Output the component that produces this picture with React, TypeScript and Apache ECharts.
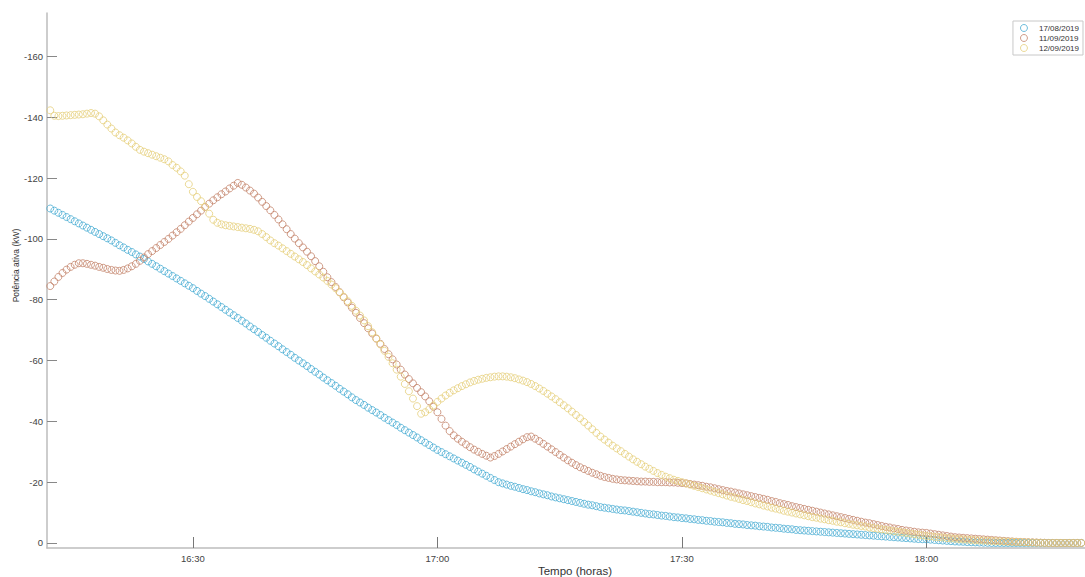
import React, { useEffect, useRef } from "react";
import * as echarts from "echarts";

// Sampling: one reading every 30 s, first reading at 16:12:30 (minutes since 16:00)
const START_MINUTE = 12.5;
const STEP_MINUTES = 0.5;

const SERIES_NAMES = ["17/08/2019", "11/09/2019", "12/09/2019"];
const COLORS = ["#48acd3", "#c4846b", "#e6d07c"];

const X_TICKS = [30, 60, 90, 120];
const Y_TICKS = [0, -20, -40, -60, -80, -100, -120, -140, -160];

// Potência ativa (kW), 17/08/2019
const p17_08 = [
  -110.0, -109.3, -108.6, -107.9, -107.2, -106.5, -105.8, -105.1, -104.4, -103.7,
  -103.0, -102.3, -101.6, -100.9, -100.2, -99.5, -98.7, -97.9, -97.2, -96.4,
  -95.7, -94.9, -94.2, -93.4, -92.6, -91.8, -91.0, -90.2, -89.4, -88.6,
  -87.8, -87.0, -86.2, -85.4, -84.6, -83.8, -82.9, -82.0, -81.2, -80.3,
  -79.4, -78.5, -77.6, -76.7, -75.8, -74.9, -74.0, -73.1, -72.2, -71.2,
  -70.3, -69.4, -68.4, -67.5, -66.5, -65.6, -64.7, -63.7, -62.8, -61.9,
  -60.9, -60.0, -59.1, -58.2, -57.2, -56.3, -55.4, -54.4, -53.5, -52.6,
  -51.7, -50.7, -49.8, -48.9, -47.9, -47.0, -46.2, -45.4, -44.5, -43.7,
  -42.9, -42.1, -41.2, -40.4, -39.6, -38.8, -37.9, -37.1, -36.3, -35.5,
  -34.7, -33.8, -33.0, -32.2, -31.4, -30.6, -29.9, -29.2, -28.5, -27.8,
  -27.1, -26.4, -25.7, -25.0, -24.2, -23.5, -22.8, -22.1, -21.4, -20.7,
  -20.0, -19.6, -19.2, -18.8, -18.5, -18.1, -17.7, -17.4, -17.0, -16.7,
  -16.3, -16.0, -15.7, -15.3, -15.0, -14.7, -14.4, -14.1, -13.8, -13.5,
  -13.2, -12.9, -12.6, -12.4, -12.1, -11.8, -11.6, -11.4, -11.2, -11.0,
  -10.8, -10.7, -10.5, -10.3, -10.1, -9.9, -9.7, -9.5, -9.4, -9.2,
  -9.0, -8.9, -8.7, -8.5, -8.4, -8.2, -8.1, -7.9, -7.8, -7.6,
  -7.5, -7.3, -7.2, -7.0, -6.9, -6.8, -6.6, -6.5, -6.3, -6.2,
  -6.1, -5.9, -5.8, -5.7, -5.5, -5.4, -5.3, -5.1, -5.0, -4.9,
  -4.7, -4.6, -4.5, -4.3, -4.2, -4.1, -4.0, -3.9, -3.8, -3.7,
  -3.6, -3.5, -3.4, -3.3, -3.2, -3.1, -3.0, -2.9, -2.8, -2.7,
  -2.6, -2.5, -2.4, -2.3, -2.2, -2.1, -2.0, -1.9, -1.8, -1.7,
  -1.6, -1.5, -1.4, -1.3, -1.25, -1.2, -1.1, -1.0, -0.9, -0.8,
  -0.7, -0.6, -0.5, -0.45, -0.4, -0.3, -0.25, -0.2, -0.15, -0.1,
  -0.05, 0, 0, 0, 0, 0, 0, 0, 0, 0,
  0, 0, 0, 0, 0, 0, 0, 0, 0, 0,
  0, 0, 0, 0, 0,
];

// Potência ativa (kW), 11/09/2019
const p11_09 = [
  -84.5, -86.0, -87.5, -88.8, -89.9, -90.8, -91.5, -92.0, -92.0, -91.8,
  -91.5, -91.2, -90.8, -90.5, -90.1, -89.8, -89.6, -89.5, -89.8, -90.3,
  -91.0, -91.8, -92.8, -93.9, -95.0, -96.0, -97.0, -98.0, -99.0, -100.0,
  -101.1, -102.2, -103.3, -104.5, -105.7, -106.9, -108.1, -109.3, -110.5, -111.6,
  -112.7, -113.7, -114.7, -115.6, -116.6, -117.5, -118.4, -117.8, -116.9, -115.9,
  -114.9, -113.6, -112.2, -110.8, -109.4, -107.9, -106.4, -104.8, -103.2, -101.6,
  -100.1, -98.6, -97.2, -95.8, -94.3, -92.7, -91.0, -89.2, -87.4, -85.8,
  -84.2, -82.5, -80.8, -79.1, -77.4, -75.7, -74.0, -72.3, -70.6, -68.9,
  -67.2, -65.5, -63.8, -62.1, -60.4, -58.7, -57.0, -55.4, -53.9, -52.5,
  -51.0, -49.6, -48.2, -46.6, -44.8, -43.0, -40.8, -38.6, -36.8, -35.4,
  -34.3, -33.3, -32.4, -31.5, -30.7, -30.0, -29.3, -28.7, -28.1, -28.6,
  -29.3, -30.1, -30.9, -31.7, -32.5, -33.3, -34.1, -34.8, -35.0, -34.3,
  -33.5, -32.6, -31.7, -30.8, -29.9, -29.0, -28.1, -27.2, -26.4, -25.6,
  -24.9, -24.3, -23.7, -23.1, -22.6, -22.1, -21.7, -21.4, -21.1, -20.9,
  -20.7, -20.6, -20.5, -20.4, -20.3, -20.2, -20.2, -20.1, -20.1, -20.0,
  -20.0, -20.0, -19.9, -19.9, -19.8, -19.7, -19.6, -19.4, -19.2, -19.0,
  -18.8, -18.5, -18.3, -18.0, -17.7, -17.4, -17.1, -16.9, -16.6, -16.3,
  -16.0, -15.7, -15.4, -15.1, -14.8, -14.5, -14.2, -13.8, -13.5, -13.1,
  -12.8, -12.5, -12.1, -11.8, -11.5, -11.2, -10.9, -10.6, -10.3, -10.0,
  -9.7, -9.4, -9.1, -8.8, -8.5, -8.2, -7.9, -7.6, -7.3, -7.0,
  -6.7, -6.5, -6.2, -5.9, -5.6, -5.3, -5.1, -4.8, -4.6, -4.3,
  -4.1, -3.9, -3.7, -3.5, -3.4, -3.3, -3.1, -2.9, -2.7, -2.5,
  -2.3, -2.1, -1.9, -1.8, -1.7, -1.6, -1.5, -1.4, -1.3, -1.2,
  -1.1, -1.0, -0.9, -0.8, -0.7, -0.6, -0.5, -0.4, -0.35, -0.3,
  -0.25, -0.2, -0.15, -0.1, -0.05, 0, 0, 0, 0, 0,
  0, 0, 0, 0, 0,
];

// Potência ativa (kW), 12/09/2019
const p12_09 = [
  -142.3, -140.5, -140.4, -140.5, -140.6, -140.7, -140.8, -140.9, -141.0, -141.2,
  -141.4, -141.2, -140.3, -139.0, -137.6, -136.3, -135.0, -134.1, -133.3, -132.4,
  -131.4, -130.3, -129.3, -128.7, -128.2, -127.7, -127.2, -126.7, -126.2, -125.5,
  -124.3, -123.4, -122.2, -120.8, -118.0, -115.5, -113.8, -112.4, -110.5, -108.3,
  -106.3, -105.3, -104.8, -104.5, -104.3, -104.1, -103.9, -103.7, -103.5, -103.3,
  -103.0, -102.5, -101.6, -100.6, -99.5, -98.6, -97.8, -96.9, -96.0, -95.1,
  -94.2, -93.3, -92.4, -91.4, -90.3, -89.3, -88.3, -87.3, -86.2, -85.0,
  -83.8, -82.4, -81.0, -79.5, -78.0, -76.4, -74.8, -73.2, -71.3, -69.3,
  -67.3, -65.3, -63.2, -61.2, -59.1, -57.0, -54.7, -52.3, -49.9, -47.5,
  -45.0, -42.5, -43.0, -44.0, -45.2, -46.4, -47.5, -48.5, -49.4, -50.2,
  -50.9, -51.6, -52.2, -52.8, -53.3, -53.7, -54.0, -54.3, -54.5, -54.7,
  -54.8, -54.8, -54.7, -54.5, -54.2, -53.8, -53.4, -52.9, -52.3, -51.6,
  -50.8, -50.0, -49.1, -48.2, -47.3, -46.3, -45.3, -44.3, -43.2, -42.1,
  -41.0, -39.8, -38.6, -37.4, -36.2, -35.0, -34.0, -33.0, -32.0, -31.1,
  -30.2, -29.3, -28.4, -27.5, -26.7, -25.9, -25.1, -24.4, -23.7, -23.0,
  -22.4, -21.8, -21.3, -20.8, -20.4, -20.0, -19.6, -19.2, -18.8, -18.4,
  -18.0, -17.6, -17.2, -16.8, -16.4, -16.0, -15.6, -15.2, -14.9, -14.5,
  -14.1, -13.8, -13.4, -13.0, -12.7, -12.3, -12.0, -11.6, -11.3, -11.0,
  -10.6, -10.3, -10.0, -9.7, -9.4, -9.1, -8.8, -8.5, -8.3, -8.0,
  -7.8, -7.5, -7.3, -7.0, -6.8, -6.5, -6.3, -6.0, -5.8, -5.6,
  -5.4, -5.1, -4.9, -4.7, -4.5, -4.3, -4.1, -3.9, -3.7, -3.5,
  -3.3, -3.1, -2.9, -2.7, -2.5, -2.3, -2.2, -2.0, -1.9, -1.8,
  -1.6, -1.5, -1.4, -1.3, -1.2, -1.1, -1.0, -0.9, -0.85, -0.8,
  -0.7, -0.65, -0.6, -0.55, -0.5, -0.45, -0.4, -0.35, -0.3, -0.25,
  -0.2, -0.15, -0.1, -0.05, 0, 0, 0, 0, 0, 0,
  0, 0, 0, 0, 0,
];

const SERIES_VALUES = [p17_08, p11_09, p12_09];

const pad = (n: number) => (n < 10 ? "0" + n : "" + n);
const fmtTime = (m: number) => {
  const total = Math.round(m);
  return `${16 + Math.floor(total / 60)}:${pad(total % 60)}`;
};

export default function App() {
  const ref = useRef<HTMLDivElement>(null);

  useEffect(() => {
    if (!ref.current) return;
    const chart = echarts.init(ref.current, undefined, { renderer: "svg" });
    const font = "'Liberation Sans', Arial, sans-serif";

    const series = SERIES_VALUES.map((vals, si) => ({
      name: SERIES_NAMES[si],
      type: "scatter",
      symbol: "circle",
      symbolSize: 7,
      data: vals.map((v, i) => [START_MINUTE + i * STEP_MINUTES, v]),
      itemStyle: {
        color: "rgba(255,255,255,0)",
        borderColor: COLORS[si],
        borderWidth: 1,
      },
      emphasis: { disabled: true },
    }));

    chart.setOption({
      animation: false,
      backgroundColor: "#ffffff",
      textStyle: { fontFamily: font },
      grid: {
        left: 47,
        right: 0,
        top: 13,
        bottom: 29,
        containLabel: false,
        outerBoundsMode: "none",
      },
      legend: {
        orient: "vertical",
        right: 2,
        top: 21,
        padding: [3, 4, 3, 7],
        itemWidth: 20,
        itemHeight: 7,
        itemGap: 2,
        borderColor: "#c8c8c8",
        borderWidth: 1,
        textStyle: { fontSize: 8, color: "#333", fontFamily: font, lineHeight: 8 },
        data: SERIES_NAMES.map((n, i) => ({
          name: n,
          icon: "circle",
          itemStyle: { color: "rgba(255,255,255,0)", borderColor: COLORS[i], borderWidth: 1 },
        })),
      },
      xAxis: {
        type: "value",
        min: 12.1,
        max: 139.45,
        name: "Tempo (horas)",
        nameLocation: "middle",
        nameGap: 17,
        nameMoveOverlap: false,
        nameTextStyle: { fontSize: 11.5, color: "#333", padding: [0, 0, 0, 18] },
        axisLine: { onZero: false, lineStyle: { color: "#bdbdbd", width: 1.5 } },
        axisTick: {
          inside: true,
          length: 11,
          customValues: X_TICKS,
          lineStyle: { color: "#777", width: 1 },
        },
        axisLabel: {
          customValues: X_TICKS,
          formatter: (v: number) => fmtTime(v),
          fontSize: 9.5,
          color: "#444",
          margin: 5,
        },
        splitLine: { show: false },
      },
      yAxis: {
        type: "value",
        inverse: true,
        min: -174.3,
        max: 1.65,
        name: "Potência ativa (kW)",
        nameLocation: "middle",
        nameGap: 27,
        nameRotate: 90,
        nameMoveOverlap: false,
        nameTextStyle: { fontSize: 8.5, color: "#333", padding: [0, 0, 0, 30] },
        axisLine: { show: true, onZero: false, lineStyle: { color: "#bdbdbd", width: 1.5 } },
        axisTick: {
          inside: true,
          length: 10,
          customValues: Y_TICKS,
          lineStyle: { color: "#888", width: 1 },
        },
        axisLabel: {
          customValues: Y_TICKS,
          fontSize: 9.5,
          color: "#444",
          margin: 4,
        },
        splitLine: { show: false },
      },
      series,
    });

    return () => chart.dispose();
  }, []);

  return (
    <div
      ref={ref}
      style={{ position: "fixed", left: 0, top: 0, width: 1085, height: 577, background: "#fff" }}
    />
  );
}
